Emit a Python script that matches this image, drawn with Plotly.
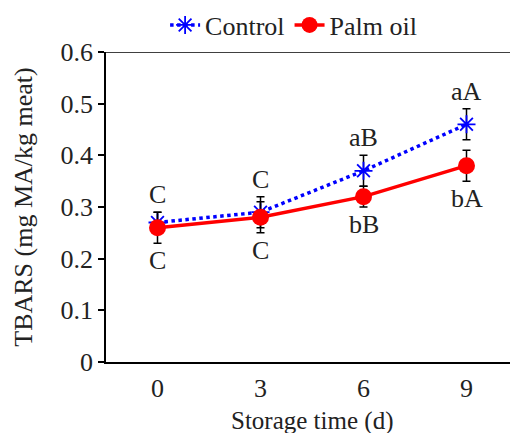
import plotly.graph_objects as go

days = ["0", "3", "6", "9"]
control = [0.27, 0.29, 0.37, 0.46]
control_err = [0.02, 0.03, 0.03, 0.03]
palm = [0.26, 0.28, 0.32, 0.38]
palm_err = [0.03, 0.03, 0.02, 0.03]
control_labels = ["C", "C", "aB", "aA"]
palm_labels = ["C", "C", "bB", "bA"]

FONT = "Liberation Serif"
FS = 26
W, H = 510, 425   # page adds an 8px body margin
M_L, M_R, M_T, M_B = 98, 0, 44, 71
PLOT_H = H - M_T - M_B

fig = go.Figure()
fig.add_trace(go.Scatter(
    x=days, y=control, name="Control", mode="lines+markers",
    line=dict(color="#0000FF", width=3.5, dash="dot"),
    marker=dict(symbol="asterisk-open", size=15, color="#0000FF", line=dict(width=1.8, color="#0000FF")),
    error_y=dict(type="data", array=control_err, color="black", thickness=1.5, width=4),
))
fig.add_trace(go.Scatter(
    x=days, y=palm, name="Palm oil", mode="lines+markers",
    line=dict(color="#FF0000", width=3.5),
    marker=dict(symbol="circle", size=17, color="#FF0000"),
    error_y=dict(type="data", array=palm_err, color="black", thickness=1.5, width=4),
))

for i, (v, e, t) in enumerate(zip(control, control_err, control_labels)):
    fig.add_annotation(x=i, y=v + e, text=t, showarrow=False, yanchor="bottom", yshift=1,
                       font=dict(family=FONT, size=FS, color="#222"))
for i, (v, e, t) in enumerate(zip(palm, palm_err, palm_labels)):
    fig.add_annotation(x=i, y=v - e, text=t, showarrow=False, yanchor="top", yshift=-1,
                       font=dict(family=FONT, size=FS, color="#222"))

fig.add_annotation(xref="paper", yref="paper", x=0.5, y=-M_B / PLOT_H, yanchor="bottom", yshift=-3,
                   text="Storage time (d)", showarrow=False, borderpad=0,
                   font=dict(family=FONT, size=25, color="#222"))

fig.add_shape(type="line", xref="paper", yref="y", x0=-0.015, x1=1, y0=0.6, y1=0.6,
              line=dict(color="black", width=1.5))

fig.update_layout(
    width=W, height=H,
    margin=dict(l=M_L, r=M_R, t=M_T, b=M_B, autoexpand=False),
    paper_bgcolor="white", plot_bgcolor="white",
    font=dict(family=FONT, size=FS, color="#222"),
    showlegend=True,
    legend=dict(orientation="h", x=0.56, xanchor="center", xref="container",
                y=0.96, yanchor="middle", yref="container",
                font=dict(family=FONT, size=FS, color="#222"), tracegroupgap=0,
                bgcolor="rgba(0,0,0,0)"),
    xaxis=dict(type="category", range=[-0.5, 3.5], showline=True, linecolor="black", linewidth=1.5,
               ticks="", showgrid=False, zeroline=False, ticklabelstandoff=2),
    yaxis=dict(range=[0, 0.6], dtick=0.1, showline=True, linecolor="black", linewidth=1.5,
               ticks="outside", ticklen=6, tickcolor="black", tickwidth=1.5, showgrid=False, zeroline=False,
               tickformat="~g",
               title=dict(text="TBARS (mg MA/kg meat)", standoff=20, font=dict(family=FONT, size=FS))),
)
fig.write_html("out.html")
